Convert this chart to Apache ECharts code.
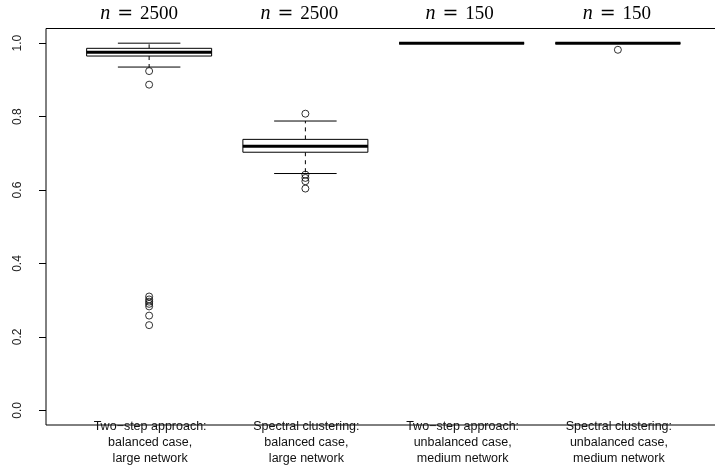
<!DOCTYPE html>
<html>
<head>
<meta charset="utf-8">
<script src="https://cdn.jsdelivr.net/npm/echarts@6/dist/echarts.min.js"></script>
<style>
html,body{margin:0;padding:0;background:#fff;}
#chart{width:715px;height:465px;}
</style>
</head>
<body>
<div id="chart"></div>
<script>
// ---- data ----
const categories = [
  'Two\u2212step approach:\nbalanced case,\nlarge network',
  'Spectral clustering:\nbalanced case,\nlarge network',
  'Two\u2212step approach:\nunbalanced case,\nmedium network',
  'Spectral clustering:\nunbalanced case,\nmedium network'
];
const sampleSizes = ['2500', '2500', '150', '150'];
const whiskerLow  = [0.935, 0.645, 1.0, 1.0];
const q1          = [0.965, 0.703, 1.0, 1.0];
const median      = [0.975, 0.719, 1.0, 1.0];
const q3          = [0.986, 0.738, 1.0, 1.0];
const whiskerHigh = [1.0,   0.788, 1.0, 1.0];
const outliers = [
  [0.924, 0.887, 0.31, 0.302, 0.296, 0.29, 0.283, 0.258, 0.232],
  [0.808, 0.642, 0.633, 0.624, 0.604],
  [],
  [0.982]
];
const yTicks = [0, 0.2, 0.4, 0.6, 0.8, 1.0];

// ---- layout/style constants ----
const BOX_HALF = 0.4;
const CAP_HALF = 0.2;
const TITLE_SHIFT_PX = [-10, -6, -2, -1];

const boxData = categories.map((c, i) => [i + 1, whiskerLow[i], q1[i], median[i], q3[i], whiskerHigh[i]]);
const outlierData = [];
outliers.forEach((arr, i) => arr.forEach(v => outlierData.push([i + 1, v])));
const labelData = categories.map((c, i) => [i + 1, i]);

const chart = echarts.init(document.getElementById('chart'), null, {renderer: 'canvas'});

const option = {
  animation: false,
  backgroundColor: '#fff',
  grid: {
    left: 46, top: 28.5, right: -6, bottom: 40,
    outerBoundsMode: 'none', containLabel: false,
    show: true, borderColor: '#000', borderWidth: 1, backgroundColor: 'transparent'
  },
  xAxis: {
    type: 'value', min: 0.34, max: 4.66,
    axisLine: {show: false}, axisTick: {show: false}, axisLabel: {show: false}, splitLine: {show: false}
  },
  yAxis: {
    type: 'value', min: -0.04, max: 1.04,
    axisLine: {show: false},
    splitLine: {show: false},
    axisTick: {show: true, length: 7, customValues: yTicks, lineStyle: {color: '#000', width: 1}},
    axisLabel: {
      show: true, customValues: yTicks, rotate: 90, margin: 22,
      fontFamily: 'Liberation Sans, Arial, sans-serif', fontSize: 12, color: '#222',
      formatter: v => v.toFixed(1)
    }
  },
  series: [
    {
      type: 'custom',
      clip: false,
      data: boxData,
      encode: {x: 0, y: [1, 2, 3, 4, 5]},
      renderItem: function (params, api) {
        const x = api.value(0);
        const lo = api.coord([x, api.value(1)]);
        const b1 = api.coord([x, api.value(2)]);
        const md = api.coord([x, api.value(3)]);
        const b3 = api.coord([x, api.value(4)]);
        const hi = api.coord([x, api.value(5)]);
        const xl = api.coord([x - BOX_HALF, 0])[0];
        const xr = api.coord([x + BOX_HALF, 0])[0];
        const cl = api.coord([x - CAP_HALF, 0])[0];
        const cr = api.coord([x + CAP_HALF, 0])[0];
        const cx = lo[0];
        const thin = {stroke: '#000', lineWidth: 1, fill: null};
        return {
          type: 'group',
          children: [
            {type: 'line', shape: {x1: cx, y1: b1[1], x2: cx, y2: lo[1]}, style: Object.assign({lineDash: [4, 4]}, thin)},
            {type: 'line', shape: {x1: cx, y1: b3[1], x2: cx, y2: hi[1]}, style: Object.assign({lineDash: [4, 4]}, thin)},
            {type: 'line', shape: {x1: cl, y1: lo[1], x2: cr, y2: lo[1]}, style: thin},
            {type: 'line', shape: {x1: cl, y1: hi[1], x2: cr, y2: hi[1]}, style: thin},
            {type: 'rect', shape: {x: xl, y: b3[1], width: xr - xl, height: b1[1] - b3[1]}, style: {stroke: '#000', lineWidth: 1, fill: '#fff'}},
            {type: 'line', shape: {x1: xl, y1: md[1], x2: xr, y2: md[1]}, style: {stroke: '#000', lineWidth: 3}}
          ]
        };
      },
      z: 2
    },
    {
      type: 'scatter',
      data: outlierData,
      symbol: 'circle',
      symbolSize: 7,
      itemStyle: {color: 'transparent', borderColor: '#000', borderWidth: 1},
      z: 3
    },
    {
      type: 'custom',
      clip: false,
      data: labelData,
      encode: {x: 0},
      renderItem: function (params, api) {
        const x = api.value(0);
        const i = api.value(1);
        const top = api.coord([x, 1.04]);
        const bot = api.coord([x, -0.04]);
        return {
          type: 'group',
          children: [
            {
              type: 'text',
              style: {
                x: top[0] + TITLE_SHIFT_PX[i], y: 14,
                text: '{n|n}{eq|=}{v|' + sampleSizes[i] + '}',
                align: 'center', verticalAlign: 'middle',
                rich: {
                  n: {fontFamily: 'Liberation Serif, serif', fontStyle: 'italic', fontSize: 20, fill: '#000'},
                  eq: {fontFamily: 'DejaVu Serif, serif', fontSize: 19, padding: [0, 7, 0, 7], fill: '#000'},
                  v: {fontFamily: 'Liberation Serif, serif', fontSize: 19, fill: '#000'}
                }
              }
            },
            {
              type: 'text',
              style: {
                x: bot[0] + 1, y: bot[1] - 6,
                text: categories[i],
                align: 'center', verticalAlign: 'top',
                fontFamily: 'Liberation Sans, Arial, sans-serif', fontSize: 12.5, lineHeight: 16,
                fill: '#111'
              }
            }
          ]
        };
      },
      z: 5
    }
  ]
};
chart.setOption(option);
</script>
</body>
</html>
